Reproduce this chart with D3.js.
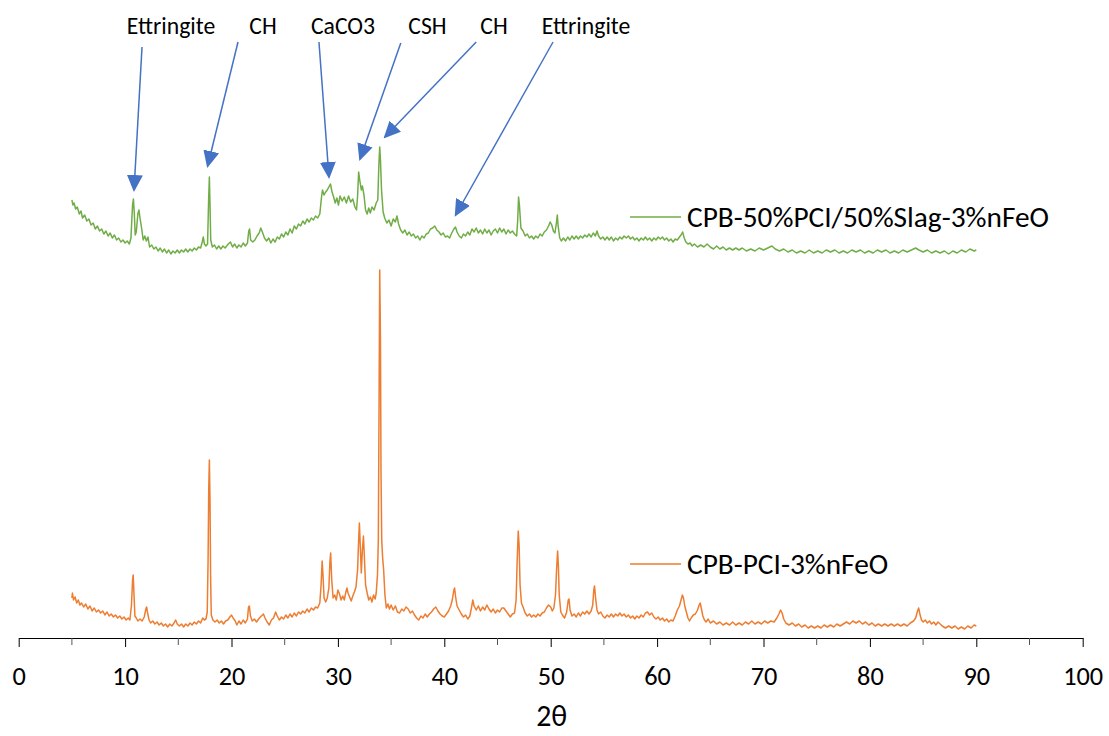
<!DOCTYPE html>
<html>
<head>
<meta charset="utf-8">
<script src="https://cdn.jsdelivr.net/npm/d3@7"></script>
<style>
  body { margin: 0; background: #fff; }
  text { font-family: Carlito, Lato, sans-serif; fill: #000; }
</style>
</head>
<body>
<script>
// 2theta (deg), intensity (a.u., offset pattern on top)
const slagScan = [
  [5.0,438],[5.1,433],[5.2,435],[5.35,429],[5.5,431],[5.7,424],[5.85,427],[6.0,420],[6.2,423],[6.4,417],
  [6.6,419],[6.8,413],[7.0,415],[7.2,409],[7.4,412],[7.6,407],[7.8,409],[8.0,404],[8.2,407],[8.4,402],
  [8.6,405],[8.8,400],[9.0,403],[9.2,398],[9.4,400],[9.6,396],[9.8,398],[10.0,395],[10.2,397],[10.4,394],
  [10.55,400],[10.7,433],[10.78,439],[10.86,426],[10.95,403],[11.05,406],[11.2,424],[11.3,428],[11.4,420],[11.55,410],
  [11.7,398],[11.85,402],[12.0,397],[12.15,401],[12.3,391],[12.5,393],[12.7,389],[12.9,391],[13.1,387],[13.3,390],
  [13.5,386],[13.7,389],[13.9,385],[14.1,388],[14.3,384],[14.5,387],[14.7,385],[14.9,388],[15.1,385],[15.3,388],
  [15.5,386],[15.7,389],[15.9,386],[16.1,389],[16.3,387],[16.5,390],[16.7,388],[16.9,391],[17.1,390],[17.25,396],
  [17.35,401],[17.45,394],[17.6,392],[17.75,394],[17.85,438],[17.92,461],[17.98,433],[18.05,398],[18.2,391],[18.4,393],
  [18.6,389],[18.8,392],[19.0,389],[19.2,392],[19.4,390],[19.7,394],[19.9,396],[20.1,391],[20.3,394],[20.5,390],
  [20.7,393],[20.9,391],[21.1,395],[21.3,392],[21.5,395],[21.62,407],[21.7,409],[21.8,398],[22.0,396],[22.2,398],
  [22.4,402],[22.6,405],[22.75,410],[22.9,406],[23.1,400],[23.3,397],[23.5,400],[23.7,395],[23.9,399],[24.1,396],
  [24.3,401],[24.5,399],[24.7,404],[24.9,401],[25.1,406],[25.3,403],[25.5,409],[25.7,405],[25.9,412],[26.1,409],
  [26.3,414],[26.5,412],[26.7,417],[26.9,414],[27.1,419],[27.3,416],[27.5,420],[27.7,418],[27.9,422],[28.1,420],
  [28.3,424],[28.45,440],[28.55,448],[28.7,443],[28.85,446],[29.0,448],[29.15,451],[29.3,454],[29.45,446],[29.6,441],
  [29.75,435],[29.9,440],[30.05,433],[30.2,442],[30.4,437],[30.6,441],[30.8,435],[31.0,442],[31.2,436],[31.4,439],
  [31.6,431],[31.75,428],[31.85,442],[31.95,466],[32.05,458],[32.2,448],[32.3,452],[32.45,443],[32.6,428],[32.75,424],
  [32.9,430],[33.05,425],[33.2,431],[33.4,428],[33.6,435],[33.75,438],[33.85,473],[33.93,491],[34.0,478],[34.1,448],
  [34.25,426],[34.4,420],[34.6,415],[34.8,418],[35.0,412],[35.2,419],[35.4,416],[35.55,422],[35.7,414],[35.9,408],
  [36.1,405],[36.3,408],[36.5,403],[36.7,406],[36.9,402],[37.1,404],[37.3,400],[37.5,402],[37.7,398],[37.9,402],
  [38.1,400],[38.3,404],[38.5,405],[38.7,409],[38.9,410],[39.1,412],[39.3,408],[39.5,406],[39.7,403],[39.9,405],
  [40.1,401],[40.3,402],[40.5,400],[40.7,405],[40.9,409],[41.05,411],[41.2,406],[41.4,402],[41.6,400],[41.8,404],
  [42.0,402],[42.2,406],[42.4,403],[42.6,409],[42.8,406],[43.0,410],[43.2,405],[43.4,408],[43.6,404],[43.8,409],
  [44.0,405],[44.2,408],[44.4,403],[44.6,407],[44.8,409],[45.0,405],[45.2,410],[45.4,406],[45.6,409],[45.8,404],
  [46.0,408],[46.2,405],[46.4,407],[46.6,404],[46.8,402],[46.9,418],[46.98,441],[47.06,433],[47.2,410],[47.4,407],
  [47.6,402],[47.8,404],[48.0,400],[48.2,402],[48.4,399],[48.6,402],[48.8,400],[49.0,404],[49.2,402],[49.4,406],
  [49.6,408],[49.8,412],[49.95,416],[50.1,413],[50.25,407],[50.4,405],[50.55,416],[50.62,423],[50.7,412],[50.85,400],
  [51.0,397],[51.2,400],[51.4,397],[51.6,401],[51.8,398],[52.0,402],[52.2,399],[52.4,402],[52.6,399],[52.8,402],
  [53.0,400],[53.2,403],[53.4,401],[53.6,404],[53.8,401],[54.0,405],[54.2,402],[54.35,407],[54.5,402],[54.7,399],
  [54.9,401],[55.1,398],[55.3,401],[55.5,398],[55.7,401],[55.9,397],[56.1,400],[56.3,398],[56.5,401],[56.7,399],
  [56.9,402],[57.1,400],[57.3,402],[57.5,399],[57.7,401],[57.9,398],[58.1,400],[58.3,397],[58.5,400],[58.7,398],
  [58.9,401],[59.1,398],[59.3,400],[59.5,397],[59.7,400],[59.9,398],[60.1,401],[60.3,399],[60.5,401],[60.7,398],
  [60.9,400],[61.1,397],[61.3,399],[61.5,396],[61.7,399],[61.9,398],[62.1,401],[62.25,403],[62.4,406],[62.55,400],
  [62.7,396],[62.9,394],[63.1,395],[63.3,392],[63.5,394],[63.8,391],[64.1,393],[64.4,391],[64.7,394],[65.0,391],
  [65.3,389],[65.6,392],[65.9,389],[66.2,391],[66.5,388],[66.8,390],[67.1,388],[67.4,390],[67.7,388],[68.0,390],
  [68.4,387],[68.8,389],[69.2,387],[69.6,390],[70.0,388],[70.4,390],[70.8,392],[71.1,389],[71.5,387],[71.9,389],
  [72.3,386],[72.7,388],[73.1,385],[73.5,387],[73.9,385],[74.3,388],[74.7,385],[75.1,387],[75.5,385],[75.9,388],
  [76.3,386],[76.7,388],[77.1,385],[77.5,387],[77.9,385],[78.3,388],[78.7,386],[79.1,388],[79.5,385],[79.9,387],
  [80.3,385],[80.7,388],[81.1,386],[81.5,388],[81.9,385],[82.3,387],[82.7,385],[83.1,388],[83.5,386],[83.9,388],
  [84.3,390],[84.6,388],[85.0,386],[85.4,388],[85.8,385],[86.2,387],[86.6,385],[87.0,387],[87.4,384],[87.8,387],
  [88.2,385],[88.6,388],[89.0,386],[89.4,389],[89.8,387],[90.0,388]
]

const pciScan = [
  [5.0,40],[5.05,45],[5.15,38],[5.3,41],[5.45,35],[5.6,38],[5.75,33],[5.9,35],[6.1,31],[6.3,34],
  [6.5,29],[6.7,32],[6.9,27],[7.1,30],[7.3,26],[7.5,28],[7.7,25],[7.9,27],[8.1,23],[8.3,26],
  [8.5,22],[8.7,24],[8.9,21],[9.1,23],[9.3,20],[9.5,22],[9.7,19],[9.9,21],[10.1,18],[10.3,20],
  [10.45,18],[10.6,33],[10.7,58],[10.76,63],[10.82,48],[10.92,22],[11.05,20],[11.2,17],[11.4,19],[11.6,17],
  [11.8,21],[11.95,29],[12.02,31],[12.1,26],[12.25,18],[12.4,15],[12.6,17],[12.8,14],[13.0,16],[13.2,13],
  [13.4,15],[13.6,12],[13.8,14],[14.0,11],[14.2,14],[14.4,12],[14.6,15],[14.75,18],[14.9,14],[15.1,12],
  [15.3,14],[15.5,11],[15.7,14],[15.9,12],[16.1,15],[16.3,13],[16.5,16],[16.7,14],[16.9,17],[17.1,15],
  [17.3,20],[17.45,18],[17.6,19],[17.72,26],[17.8,78],[17.86,148],[17.92,178],[17.98,138],[18.04,58],[18.1,23],
  [18.25,18],[18.45,16],[18.65,18],[18.85,15],[19.05,17],[19.25,14],[19.45,17],[19.65,18],[19.85,21],[20.0,23],
  [20.15,20],[20.35,17],[20.5,13],[20.7,17],[20.9,14],[21.1,18],[21.3,15],[21.5,19],[21.6,31],[21.68,32],
  [21.78,22],[21.95,17],[22.15,19],[22.35,16],[22.55,19],[22.8,22],[23.0,24],[23.15,20],[23.35,16],[23.55,13],
  [23.75,18],[23.95,20],[24.15,26],[24.3,22],[24.5,18],[24.7,21],[24.9,19],[25.1,23],[25.3,20],[25.5,24],
  [25.7,21],[25.9,25],[26.1,22],[26.3,26],[26.5,24],[26.7,27],[26.9,25],[27.1,29],[27.3,26],[27.5,30],
  [27.7,28],[27.9,31],[28.1,30],[28.3,35],[28.42,53],[28.52,77],[28.6,63],[28.7,40],[28.85,36],[29.0,40],
  [29.15,50],[29.25,76],[29.32,85],[29.42,58],[29.55,40],[29.7,43],[29.85,38],[30.0,48],[30.15,44],[30.3,38],
  [30.45,42],[30.6,38],[30.75,46],[30.85,50],[30.95,45],[31.1,41],[31.25,37],[31.4,42],[31.55,46],[31.7,51],
  [31.85,68],[31.95,98],[32.02,115],[32.1,93],[32.2,65],[32.3,88],[32.4,102],[32.5,78],[32.6,53],[32.75,45],
  [32.9,38],[33.05,41],[33.2,36],[33.35,43],[33.5,39],[33.6,45],[33.72,63],[33.8,98],[33.87,238],[33.93,368],
  [34.0,298],[34.05,168],[34.12,98],[34.2,81],[34.3,68],[34.42,43],[34.55,30],[34.7,34],[34.85,29],[35.0,33],
  [35.2,28],[35.4,32],[35.6,26],[35.8,25],[36.0,29],[36.2,27],[36.4,31],[36.6,29],[36.8,25],[37.0,27],
  [37.2,23],[37.4,20],[37.6,18],[37.8,22],[38.0,20],[38.2,24],[38.4,21],[38.6,24],[38.8,26],[39.0,29],
  [39.2,31],[39.4,27],[39.6,24],[39.8,22],[40.0,21],[40.2,24],[40.4,27],[40.6,32],[40.75,38],[40.9,48],
  [40.97,50],[41.05,42],[41.2,32],[41.4,28],[41.6,24],[41.8,21],[42.0,23],[42.2,19],[42.4,22],[42.55,30],
  [42.68,38],[42.8,32],[43.0,28],[43.2,32],[43.4,27],[43.6,31],[43.8,28],[44.0,33],[44.2,29],[44.4,26],
  [44.6,29],[44.8,25],[45.0,28],[45.2,26],[45.4,30],[45.6,30],[45.8,27],[46.0,24],[46.2,21],[46.4,24],
  [46.6,25],[46.75,38],[46.85,78],[46.95,107],[47.03,93],[47.12,53],[47.25,35],[47.4,31],[47.6,25],[47.8,22],
  [48.0,24],[48.2,21],[48.4,23],[48.6,21],[48.8,24],[49.0,22],[49.2,25],[49.4,26],[49.6,30],[49.8,33],
  [50.0,31],[50.15,27],[50.3,30],[50.45,43],[50.55,68],[50.65,87],[50.72,73],[50.8,43],[50.95,26],[51.1,23],
  [51.3,20],[51.5,26],[51.65,38],[51.72,39],[51.82,28],[52.0,22],[52.2,24],[52.4,21],[52.6,25],[52.8,22],
  [53.0,26],[53.2,24],[53.4,27],[53.6,24],[53.8,27],[53.95,33],[54.05,48],[54.12,52],[54.22,40],[54.35,28],
  [54.5,24],[54.7,26],[54.9,22],[55.1,20],[55.3,23],[55.5,21],[55.7,24],[55.9,21],[56.1,24],[56.3,22],
  [56.5,25],[56.7,22],[56.9,24],[57.1,21],[57.3,23],[57.5,20],[57.7,22],[57.9,19],[58.1,22],[58.3,20],
  [58.5,23],[58.7,21],[58.9,25],[59.1,26],[59.3,23],[59.5,25],[59.7,21],[59.9,19],[60.1,21],[60.3,18],
  [60.5,20],[60.7,17],[60.9,19],[61.1,16],[61.3,18],[61.5,17],[61.7,22],[61.9,28],[62.1,32],[62.25,38],
  [62.38,43],[62.48,40],[62.6,32],[62.75,26],[62.9,20],[63.05,17],[63.2,20],[63.4,23],[63.6,24],[63.8,28],
  [63.95,33],[64.05,35],[64.15,30],[64.3,22],[64.45,18],[64.6,16],[64.8,19],[65.0,15],[65.3,17],[65.6,14],
  [65.9,16],[66.2,13],[66.5,15],[66.8,13],[67.1,16],[67.4,13],[67.7,15],[68.0,13],[68.3,16],[68.6,14],
  [68.9,17],[69.2,14],[69.5,16],[69.8,14],[70.1,17],[70.4,15],[70.7,17],[71.0,16],[71.25,20],[71.45,24],
  [71.6,28],[71.75,25],[71.9,19],[72.1,15],[72.4,13],[72.7,15],[73.0,12],[73.3,14],[73.6,11],[73.9,13],
  [74.2,10],[74.5,12],[74.8,10],[75.1,12],[75.4,10],[75.7,13],[76.0,11],[76.3,13],[76.6,11],[76.9,14],
  [77.2,12],[77.5,14],[77.8,16],[78.1,14],[78.4,17],[78.7,15],[79.0,17],[79.3,14],[79.6,16],[79.9,13],
  [80.2,15],[80.5,12],[80.8,14],[81.1,12],[81.4,14],[81.7,12],[82.0,14],[82.3,12],[82.6,14],[82.9,12],
  [83.2,14],[83.5,12],[83.8,15],[84.1,17],[84.3,20],[84.45,26],[84.58,30],[84.7,24],[84.85,18],[85.0,16],
  [85.2,18],[85.4,15],[85.6,17],[85.8,14],[86.0,16],[86.2,13],[86.4,16],[86.6,14],[86.8,12],[87.1,10],
  [87.4,12],[87.7,10],[88.0,12],[88.3,9],[88.6,11],[88.9,9],[89.2,12],[89.5,10],[89.8,13],[90.0,12]
]

const seriesNames = ['CPB-50%PCI/50%Slag-3%nFeO', 'CPB-PCI-3%nFeO']
const majorTicks = [0, 10, 20, 30, 40, 50, 60, 70, 80, 90, 100]
const minorTicks = [5, 15, 25, 35, 45, 55, 65, 75, 85, 95]

// phase labels: label x, arrow start (2theta, I), arrow tip (2theta, I)
const phaseLabels = ['Ettringite', 'CH', 'CaCO3', 'CSH', 'CH', 'Ettringite']
const labelAngles = [14.31, 22.96, 30.48, 38.42, 44.67, 53.32]
const arrowFrom = [[11.59, 591], [20.61, 596], [28.22, 596], [35.91, 595], [43.0, 596], [50.22, 596]]
const arrowTo = [[10.84, 448], [17.76, 472], [29.16, 461], [32.08, 479], [34.42, 501], [41.07, 423]]

const W = 1109, H = 736
const colors = ['#70AD47', '#ED7D31']
const arrowColor = '#4472C4'

const svg = d3.select('body').append('svg')
    .attr('width', W)
    .attr('height', H)

const x = d3.scaleLinear().domain([0, 100]).range([18.7, 1082.7])
const y = d3.scaleLinear().domain([0, 400]).range([638, 238])

// fit a font size so a sample string gets the wanted width
const fitSize = (str, width, base) => {
    const t = svg.append('text').style('font-size', base + 'px').text(str)
    const w = t.node().getComputedTextLength()
    t.remove()
    return base * width / w
}
const labelSize = fitSize('Ettringite', 88.6, 20)
const legendSize = fitSize(seriesNames[0], 362, 24)
const tickSize = fitSize('10', 26.7, 24)
const titleSize = fitSize('2θ', 31, 24)

// x axis
const xAxis = d3.axisBottom(x)
    .tickValues(majorTicks)
    .tickSize(9)
    .tickSizeOuter(0)
    .tickFormat(d3.format('d'))

const gx = svg.append('g')
    .attr('transform', `translate(0, ${y(0)})`)
    .call(xAxis)
gx.select('.domain').attr('stroke', '#000').attr('stroke-width', 1.2)
gx.selectAll('.tick line').attr('stroke', '#000')
gx.selectAll('.tick text')
    .attr('y', 38)
    .attr('dy', '0.35em')
    .style('font-family', 'Carlito, Lato, sans-serif')
    .style('font-size', tickSize + 'px')
    .attr('fill', '#000')

svg.append('g')
    .selectAll('line')
    .data(minorTicks)
    .join('line')
    .attr('x1', d => x(d)).attr('x2', d => x(d))
    .attr('y1', y(0)).attr('y2', y(0) + 7)
    .attr('stroke', '#555')

svg.append('text')
    .attr('x', x(50) + 1)
    .attr('y', 716)
    .attr('dy', '0.35em')
    .attr('text-anchor', 'middle')
    .style('font-size', titleSize + 'px')
    .text('2θ')

// scans
const line = d3.line()
    .x(d => x(d[0]))
    .y(d => y(d[1]))

;[slagScan, pciScan].forEach((scan, i) => {
    svg.append('path')
        .datum(scan)
        .attr('d', line)
        .attr('fill', 'none')
        .attr('stroke', colors[i])
        .attr('stroke-width', 1.5)
        .attr('stroke-linejoin', 'round')
})

// legend entries sitting next to each scan
const legendRows = [{ y: 217 }, { y: 564 }]
legendRows.forEach((row, i) => {
    svg.append('line')
        .attr('x1', 630).attr('x2', 681)
        .attr('y1', row.y).attr('y2', row.y)
        .attr('stroke', colors[i])
        .attr('stroke-width', 1.3)
    svg.append('text')
        .attr('x', 687)
        .attr('y', row.y)
        .attr('dy', '0.35em')
        .style('font-size', legendSize + 'px')
        .text(seriesNames[i])
})

// arrows and phase labels
svg.append('defs').append('marker')
    .attr('id', 'head')
    .attr('markerUnits', 'userSpaceOnUse')
    .attr('viewBox', '0 -8 17 16')
    .attr('refX', 15)
    .attr('refY', 0)
    .attr('markerWidth', 17)
    .attr('markerHeight', 16)
    .attr('orient', 'auto')
    .append('path')
    .attr('d', 'M0,-8L17,0L0,8Z')
    .attr('fill', arrowColor)

svg.append('g')
    .selectAll('line')
    .data(phaseLabels)
    .join('line')
    .attr('x1', (d, i) => x(arrowFrom[i][0]))
    .attr('y1', (d, i) => y(arrowFrom[i][1]))
    .attr('x2', (d, i) => x(arrowTo[i][0]))
    .attr('y2', (d, i) => y(arrowTo[i][1]))
    .attr('stroke', arrowColor)
    .attr('stroke-width', 1.5)
    .attr('marker-end', 'url(#head)')

svg.append('g')
    .selectAll('text')
    .data(phaseLabels)
    .join('text')
    .attr('x', (d, i) => x(labelAngles[i]))
    .attr('y', 26)
    .attr('dy', '0.35em')
    .attr('text-anchor', 'middle')
    .style('font-size', labelSize + 'px')
    .text(d => d)
</script>
</body>
</html>
